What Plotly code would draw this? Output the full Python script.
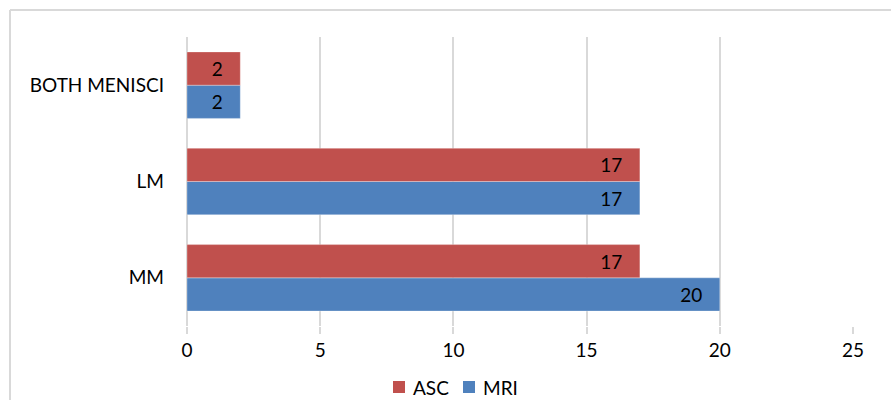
import plotly.graph_objects as go

# Meniscal tear counts by location, arthroscopy (ASC) vs MRI
categories = ["MM", "LM", "BOTH MENISCI"]
asc_values = [17, 17, 2]
mri_values = [20, 17, 2]
x_ticks = [0, 5, 10, 15, 20, 25]
series_names = ["ASC", "MRI"]

RED = "#C0504D"
BLUE = "#4F81BD"
GRID = "#D9D9D9"
FONT = "Lato"
FS = 19
PAD = "\u00a0\u00a0\u00a0"

fig = go.Figure()
# MRI added first so it sits below ASC within each group
fig.add_trace(go.Bar(
    y=categories, x=mri_values, name="MRI", orientation="h",
    marker=dict(color=BLUE, line=dict(color="rgba(255,255,255,0.6)", width=0.5)),
    texttemplate="%{x}" + PAD, textposition="inside", insidetextanchor="end",
    textfont=dict(color="black", size=FS, family=FONT),
))
fig.add_trace(go.Bar(
    y=categories, x=asc_values, name="ASC", orientation="h",
    marker=dict(color=RED, line=dict(color="rgba(255,255,255,0.6)", width=0.5)),
    texttemplate="%{x}" + PAD, textposition="inside", insidetextanchor="end",
    textfont=dict(color="black", size=FS, family=FONT),
))

W, H = 891, 400
ml, mr, mt, mb = 187, 38, 37, 74
pw, ph = W - ml - mr, H - mt - mb

def px_x(p):
    return (p - ml) / pw

def px_y(p):
    return (H - mb - p) / ph

# Chart frame (top and left edges)
fig.add_shape(type="line", xref="paper", yref="paper",
              x0=px_x(10), x1=px_x(W + 20), y0=px_y(10), y1=px_y(10),
              line=dict(color=GRID, width=2))
fig.add_shape(type="line", xref="paper", yref="paper",
              x0=px_x(10), x1=px_x(10), y0=px_y(10), y1=px_y(H + 20),
              line=dict(color=GRID, width=2))

# Compact legend below the axis: swatch + label per series
legend_items = [(series_names[0], RED, 393), (series_names[1], BLUE, 463)]
for name, color, sx in legend_items:
    fig.add_shape(type="rect", xref="paper", yref="paper",
                  x0=px_x(sx), x1=px_x(sx + 12), y0=px_y(393), y1=px_y(381),
                  fillcolor=color, line=dict(width=0))
    fig.add_annotation(xref="paper", yref="paper", x=px_x(sx + 18), y=px_y(387),
                       text=name, showarrow=False, xanchor="left", yanchor="middle",
                       font=dict(family=FONT, size=FS, color="black"))

fig.update_layout(
    width=W, height=H,
    margin=dict(l=ml, r=mr, t=mt, b=mb, autoexpand=False),
    barmode="group", bargap=0.31, bargroupgap=0,
    plot_bgcolor="white", paper_bgcolor="white",
    font=dict(family=FONT, size=FS, color="black"),
    xaxis=dict(
        range=[0, 25], tickvals=x_ticks, showgrid=True, gridcolor=GRID, gridwidth=1.5,
        zeroline=True, zerolinecolor=GRID, zerolinewidth=1.5,
        ticks="outside", ticklen=7, tickcolor=GRID, tickwidth=1.5,
        showline=False, tickfont=dict(size=FS, color="black"), automargin=False,
    ),
    yaxis=dict(
        showgrid=False, zeroline=False, showline=False, ticks="",
        ticklabelstandoff=22, tickfont=dict(size=FS, color="black"), automargin=False,
    ),
    showlegend=False,
)

fig.write_html("out.html")
